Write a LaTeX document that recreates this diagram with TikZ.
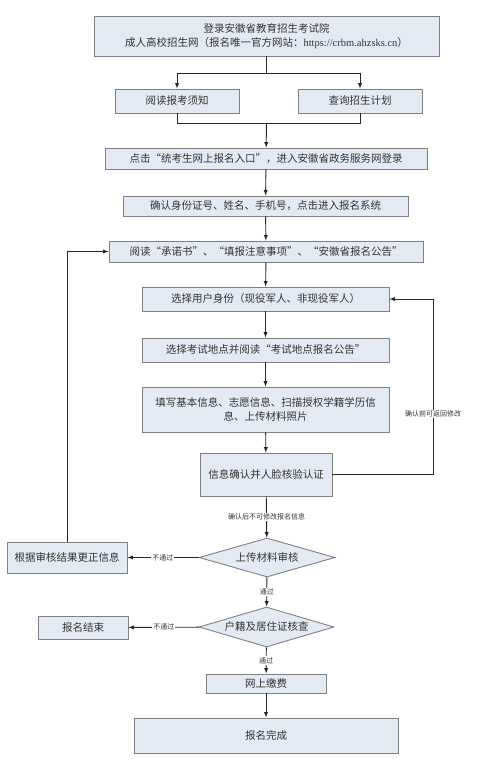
\documentclass[tikz,border=0pt]{standalone}
\usepackage{fontspec}
\setmainfont{Noto Sans CJK SC}
\newfontfamily\latin{Liberation Serif}
\usepackage{tikz}
\usetikzlibrary{shapes.geometric}
\definecolor{boxfill}{HTML}{E4EAF4}
\definecolor{boxline}{HTML}{808080}
\definecolor{txt}{HTML}{333333}

\begin{document}
\begin{tikzpicture}[x=1pt,y=-1pt,
 box/.style={draw=boxline,fill=boxfill,line width=0.9pt,text=txt,inner sep=0pt,align=center,font=\fontsize{10.5}{14}\selectfont},
 dia/.style={box,diamond,aspect=3.5},
 lbl/.style={fill=white,text=txt,inner sep=1pt,font=\fontsize{7}{8}\selectfont},
 arr/.style={->,>=latex,line width=0.9pt,draw=black!85}]
 \useasboundingbox (0,0) rectangle (478,766); %枠

 \node[box,minimum width=345,minimum height=40] (login) at (266.5,36) {登录安徽省教育招生考试院\\成人高校招生网（报名唯一官方网站：{\latin https://crbm.ahzsks.cn}）}; %ログイン
 \node[box,minimum width=124,minimum height=24] (notice) at (177,101) {阅读报考须知}; %須知
 \node[box,minimum width=124,minimum height=24] (plan) at (360,101) {查询招生计划}; %計画
 \node[box,minimum width=322,minimum height=21] (entry) at (266,158.5) {点击“统考生网上报名入口”，进入安徽省政务服务网登录}; %入口
 \node[box,minimum width=285,minimum height=20] (confirm) at (265.5,206) {确认身份证号、姓名、手机号，点击进入报名系统}; %確認
 \node[box,minimum width=314,minimum height=21] (read) at (266,251.5) {阅读“承诺书”、“填报注意事项”、“安徽省报名公告”}; %公告
 \node[box,minimum width=247,minimum height=24] (ident) at (265.5,299) {选择用户身份（现役军人、非现役军人）}; %身分
 \node[box,minimum width=247,minimum height=24] (site) at (265.5,350) {选择考试地点并阅读“考试地点报名公告”}; %地点
 \node[box,minimum width=247,minimum height=45] (fill) at (265.5,409.5) {填写基本信息、志愿信息、扫描授权学籍学历信\\息、上传材料照片}; %記入
 \node[box,minimum width=132,minimum height=43] (face) at (266,474.5) {信息确认并人脸核验认证}; %顔認証
 \node[dia,minimum width=136,minimum height=39] (audit) at (267,557.5) {上传材料审核}; %審査
 \node[box,minimum width=120,minimum height=31] (fix) at (67,557.5) {根据审核结果更正信息}; %訂正
 \node[dia,minimum width=135,minimum height=40] (check) at (266.5,627) {户籍及居住证核查}; %戸籍
 \node[box,minimum width=90,minimum height=23] (end) at (83,627.5) {报名结束}; %終了
 \node[box,minimum width=120,minimum height=19] (pay) at (266,683.5) {网上缴费}; %納付
 \node[box,minimum width=264,minimum height=35] (done) at (266,735.5) {报名完成}; %完成

 \coordinate (split) at (266.5,73); %分岐
 \coordinate (merge) at (266.5,123); %合流
 \coordinate (rback) at (433,474.5); %右戻り
 \draw[arr,-] (login) -- (split);
 \draw[arr] (split) -| (notice);
 \draw[arr] (split) -| (plan);
 \draw[arr,-] (notice) |- (merge);
 \draw[arr,-] (plan) |- (merge);
 \draw[arr] (merge) -- (entry);
 \draw[arr] (entry) -- (confirm);
 \draw[arr] (confirm) -- (read);
 \draw[arr] (read) -- (ident);
 \draw[arr] (ident) -- (site);
 \draw[arr] (site) -- (fill);
 \draw[arr] (fill) -- (face);
 \draw[arr] (face) -- (rback) |- (ident);
 \node[lbl] (backlbl) at (433,414) {确认前可返回修改}; %注記
 \draw[arr] (face) -- node[lbl] (lock) {确认后不可修改报名信息} (audit);
 \draw[arr] (audit) -- node[lbl] (ng1) {不通过} (fix);
 \draw[arr] (fix) |- (read);
 \draw[arr] (audit) -- node[lbl] (ok1) {通过} (check);
 \draw[arr] (check) -- node[lbl] (ng2) {不通过} (end);
 \draw[arr] (check) -- node[lbl] (ok2) {通过} (pay);
 \draw[arr] (pay) -- (done);
\end{tikzpicture}
\end{document}
